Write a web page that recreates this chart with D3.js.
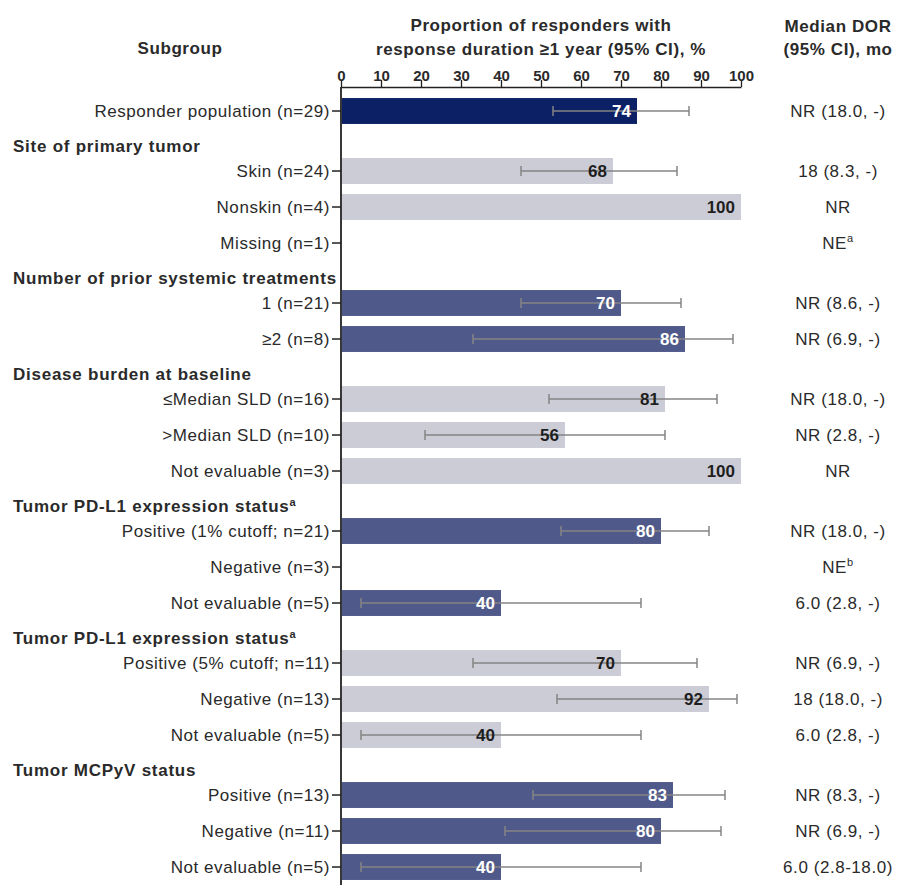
<!DOCTYPE html>
<html>
<head>
<meta charset="utf-8">
<script src="https://cdn.jsdelivr.net/npm/d3@7"></script>
<style>
  html, body { margin: 0; padding: 0; background: #fff; }
  svg { display: block; font-family: "Liberation Sans", Arial, Helvetica, sans-serif; }
</style>
</head>
<body>
<svg id="chart" width="898" height="885"></svg>
<script>
// Subgroup rows, top to bottom
const subgroups = [
  "Responder population (n=29)",
  "Skin (n=24)", "Nonskin (n=4)", "Missing (n=1)",
  "1 (n=21)", "\u22652 (n=8)",
  "\u2264Median SLD (n=16)", ">Median SLD (n=10)", "Not evaluable (n=3)",
  "Positive (1% cutoff; n=21)", "Negative (n=3)", "Not evaluable (n=5)",
  "Positive (5% cutoff; n=11)", "Negative (n=13)", "Not evaluable (n=5)",
  "Positive (n=13)", "Negative (n=11)", "Not evaluable (n=5)"
];
// Section index of each row (section 0 has no heading)
const sectionOf = [0, 1, 1, 1, 2, 2, 3, 3, 3, 4, 4, 4, 5, 5, 5, 6, 6, 6];
const sectionTitles = [
  "", "Site of primary tumor", "Number of prior systemic treatments",
  "Disease burden at baseline", "Tumor PD-L1 expression status",
  "Tumor PD-L1 expression status", "Tumor MCPyV status"
];
const sectionNotes = ["", "", "", "", "a", "a", ""];

// Proportion of responders with response duration >= 1 year, % (null = no bar)
const proportion = [74, 68, 100, null, 70, 86, 81, 56, 100, 80, null, 40, 70, 92, 40, 83, 80, 40];
const ciLow  = [53, 45, null, null, 45, 33, 52, 21, null, 55, null, 5, 33, 54, 5, 48, 41, 5];
const ciHigh = [87, 84, null, null, 85, 98, 94, 81, null, 92, null, 75, 89, 99, 75, 96, 95, 75];

// Median duration of response (95% CI), months
const medianDor = [
  "NR (18.0, -)", "18 (8.3, -)", "NR", "NE", "NR (8.6, -)", "NR (6.9, -)",
  "NR (18.0, -)", "NR (2.8, -)", "NR", "NR (18.0, -)", "NE", "6.0 (2.8, -)",
  "NR (6.9, -)", "18 (18.0, -)", "6.0 (2.8, -)", "NR (8.3, -)", "NR (6.9, -)", "6.0 (2.8-18.0)"
];
const dorNotes = ["", "", "", "a", "", "", "", "", "", "", "b", "", "", "", "", "", "", ""];

const axisTicks = [0, 10, 20, 30, 40, 50, 60, 70, 80, 90, 100];

// Section fill colours: overall, then alternating grey / slate blue
const sectionFill = ["#0c2165", "#cbccd5", "#4f598a", "#cbccd5", "#4f598a", "#cbccd5", "#4f598a"];
const labelFill   = ["#ffffff", "#1e1e1e", "#ffffff", "#1e1e1e", "#ffffff", "#1e1e1e", "#ffffff"];

const textColor = "#2a2a2a";
const fontSize = 17;
const headingGap = 2 / 3;     // extra vertical room taken by a section heading, in rows

const svg = d3.select("#chart");

// Row slots: each row is one unit, each heading adds headingGap
const slot = i => i + sectionOf[i] * headingGap;
const lastSlot = slot(subgroups.length - 1);

const x = d3.scaleLinear().domain([0, 100]).range([341, 741]);
const y = d3.scaleLinear().domain([0, lastSlot]).range([111, 867]);
const step = y(1) - y(0);
const barH = step * 0.72;

// Column headings
const heads = svg.append("g").attr("font-weight", "bold").attr("font-size", fontSize)
  .attr("letter-spacing", 0.6).attr("fill", textColor);
heads.append("text").attr("x", 180).attr("y", 54).attr("text-anchor", "middle").text("Subgroup");
heads.append("text").attr("x", 541).attr("y", 31).attr("text-anchor", "middle").text("Proportion of responders with");
heads.append("text").attr("x", 541).attr("y", 55).attr("text-anchor", "middle").text("response duration \u22651 year (95% CI), %");
heads.append("text").attr("x", 838).attr("y", 32).attr("text-anchor", "middle").text("Median DOR");
heads.append("text").attr("x", 838).attr("y", 55).attr("text-anchor", "middle").text("(95% CI), mo");

// Top axis
const axisG = svg.append("g")
  .attr("transform", `translate(0,87)`)
  .call(d3.axisTop(x).tickValues(axisTicks).tickSize(7).tickPadding(-1).tickSizeOuter(0));
axisG.select(".domain").attr("stroke", "#222").attr("stroke-width", 1.6);
axisG.selectAll(".tick line").attr("stroke", "#222").attr("stroke-width", 1.3);
axisG.selectAll(".tick text")
  .attr("font-size", 15).attr("font-weight", "bold").attr("fill", textColor)
  .attr("font-family", "\"Liberation Sans\", Arial, sans-serif");

// Vertical category axis
svg.append("line")
  .attr("x1", x(0)).attr("x2", x(0)).attr("y1", 87).attr("y2", 885)
  .attr("stroke", "#222").attr("stroke-width", 1.8);

// Section headings
const firstRowOf = s => sectionOf.indexOf(s);
const headings = svg.append("g").attr("font-weight", "bold").attr("font-size", fontSize)
  .attr("letter-spacing", 0.75).attr("fill", textColor);
sectionTitles.forEach((t, s) => {
  if (!t) return;
  const txt = headings.append("text")
    .attr("x", 13)
    .attr("y", y(slot(firstRowOf(s)) - 0.69))
    .attr("dy", "0.35em")
    .text(t);
  if (sectionNotes[s]) {
    txt.append("tspan").attr("font-size", 11).attr("dy", "-0.6em").text(sectionNotes[s]);
  }
});

const rows = subgroups.map((label, i) => ({
  label, i,
  section: sectionOf[i],
  value: proportion[i],
  lo: ciLow[i],
  hi: ciHigh[i],
  dor: medianDor[i],
  note: dorNotes[i],
  cy: y(slot(i))
}));

// Row labels and tick marks
const labels = svg.append("g").attr("font-size", fontSize).attr("letter-spacing", 0.55).attr("fill", textColor);
labels.selectAll("text").data(rows).join("text")
  .attr("x", 330).attr("y", d => d.cy).attr("dy", "0.35em")
  .attr("text-anchor", "end")
  .text(d => d.label);
svg.append("g").selectAll("line").data(rows).join("line")
  .attr("x1", 332).attr("x2", x(0)).attr("y1", d => d.cy).attr("y2", d => d.cy)
  .attr("stroke", "#222").attr("stroke-width", 1.5);

// Bars
const withBar = rows.filter(d => d.value != null);
svg.append("g").selectAll("rect").data(withBar).join("rect")
  .attr("x", x(0) + 1)
  .attr("y", d => d.cy - barH / 2)
  .attr("width", d => x(d.value) - x(0) - 1)
  .attr("height", barH)
  .attr("fill", d => sectionFill[d.section]);

// Confidence intervals
const withCi = rows.filter(d => d.lo != null && d.hi != null);
const ci = svg.append("g").attr("stroke", "#858585").attr("stroke-width", 1.5);
ci.selectAll(".ci").data(withCi).join("line")
  .attr("x1", d => x(d.lo)).attr("x2", d => x(d.hi))
  .attr("y1", d => d.cy).attr("y2", d => d.cy);
ci.selectAll(".capL").data(withCi).join("line")
  .attr("x1", d => x(d.lo)).attr("x2", d => x(d.lo))
  .attr("y1", d => d.cy - 5).attr("y2", d => d.cy + 5);
ci.selectAll(".capH").data(withCi).join("line")
  .attr("x1", d => x(d.hi)).attr("x2", d => x(d.hi))
  .attr("y1", d => d.cy - 5).attr("y2", d => d.cy + 5);

// Value labels inside bar ends
svg.append("g").attr("font-size", fontSize).attr("font-weight", "bold")
  .selectAll("text").data(withBar).join("text")
  .attr("x", d => x(d.value) - 6)
  .attr("y", d => d.cy).attr("dy", "0.37em")
  .attr("text-anchor", "end")
  .attr("fill", d => labelFill[d.section])
  .text(d => d.value);

// Median DOR column
const dorG = svg.append("g").attr("font-size", fontSize).attr("letter-spacing", 0.55).attr("fill", textColor);
rows.forEach(d => {
  const t = dorG.append("text")
    .attr("x", 838).attr("y", d.cy).attr("dy", "0.35em")
    .attr("text-anchor", "middle")
    .text(d.dor);
  if (d.note) t.append("tspan").attr("font-size", 11).attr("dy", "-0.6em").text(d.note);
});
</script>
</body>
</html>
